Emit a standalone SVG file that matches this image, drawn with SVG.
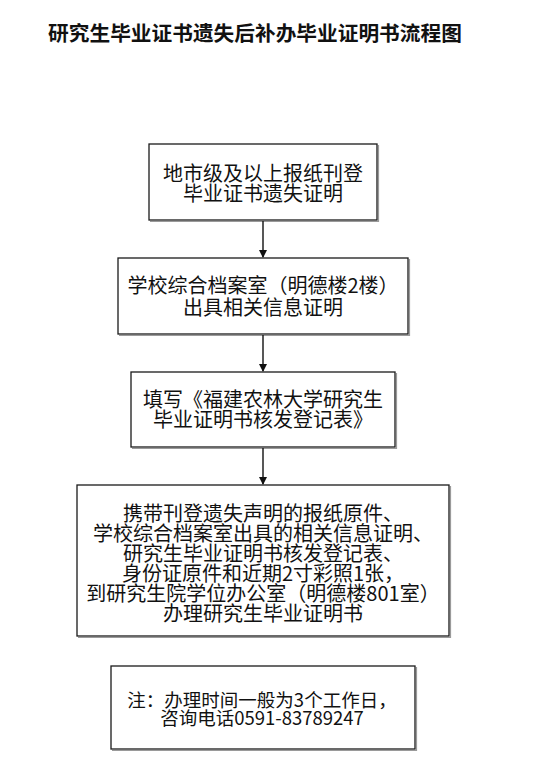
<svg xmlns="http://www.w3.org/2000/svg" width="540" height="772" viewBox="0 0 540 772">
<style>
.bg{fill:#ffffff}
.box{fill:#ffffff;stroke:#1a1a1a;stroke-width:1.3}
.shadow{fill:none;stroke:#9a9a9a;stroke-width:1.2}
.t{font-family:"Noto Sans CJK SC","Noto Sans",sans-serif;font-size:20px;fill:#111111;text-anchor:middle}
.n{font-size:18.5px}
.title{font-family:"Noto Sans CJK SC","Noto Sans",sans-serif;font-size:20.7px;font-weight:bold;fill:#111111;text-anchor:middle}
.line{stroke:#111111;stroke-width:1.4;fill:none}
</style>
<defs>
<marker id="arrow" markerWidth="8" markerHeight="8" refX="7" refY="4" orient="auto" markerUnits="userSpaceOnUse">
<path d="M0,0 L8,4 L0,8 Z" fill="#111111"/>
</marker>
</defs>
<rect class="bg" x="0" y="0" width="540" height="772"/>
<text class="title" x="255" y="41">研究生毕业证书遗失后补办毕业证明书流程图</text>

<g id="node1">
<path class="shadow" d="M150,221.5 H378.5 V145"/>
<rect class="box" x="149" y="144" width="228" height="76"/>
<text class="t"><tspan x="263" y="180.6">地市级及以上报纸刊登</tspan><tspan x="263" y="200.6">毕业证书遗失证明</tspan></text>
</g>

<g id="node2">
<path class="shadow" d="M119,335.5 H409.5 V259"/>
<rect class="box" x="118" y="258" width="290" height="76"/>
<text class="t"><tspan x="263" y="292.6">学校综合档案室（明德楼2楼）</tspan><tspan x="263" y="314.6">出具相关信息证明</tspan></text>
</g>

<g id="node3">
<path class="shadow" d="M132,448.5 H396.5 V373"/>
<rect class="box" x="131" y="372" width="264" height="75"/>
<text class="t"><tspan x="263" y="406.6">填写《福建农林大学研究生</tspan><tspan x="263" y="426.6">毕业证明书核发登记表》</tspan></text>
</g>

<g id="node4">
<path class="shadow" d="M78,637.5 H450.5 V486"/>
<rect class="box" x="77" y="485" width="372" height="151"/>
<text class="t"><tspan x="263" y="520.6">携带刊登遗失声明的报纸原件、</tspan><tspan x="263" y="540.8">学校综合档案室出具的相关信息证明、</tspan><tspan x="263" y="561">研究生毕业证明书核发登记表、</tspan><tspan x="263" y="581.2">身份证原件和近期2寸彩照1张，</tspan><tspan x="263" y="601.4">到研究生院学位办公室（明德楼801室）</tspan><tspan x="263" y="621">办理研究生毕业证明书</tspan></text>
</g>

<g id="node5">
<path class="shadow" d="M112,750.5 H416.5 V667"/>
<rect class="box" x="111" y="666" width="304" height="83"/>
<text class="t n"><tspan x="262" y="707">注：办理时间一般为3个工作日，</tspan><tspan x="262" y="725">咨询电话0591-83789247</tspan></text>
</g>

<g id="connectors">
<line class="line" x1="263" y1="221" x2="263" y2="257" marker-end="url(#arrow)"/>
<line class="line" x1="263" y1="335" x2="263" y2="371" marker-end="url(#arrow)"/>
<line class="line" x1="263" y1="448" x2="263" y2="484" marker-end="url(#arrow)"/>
</g>
</svg>
